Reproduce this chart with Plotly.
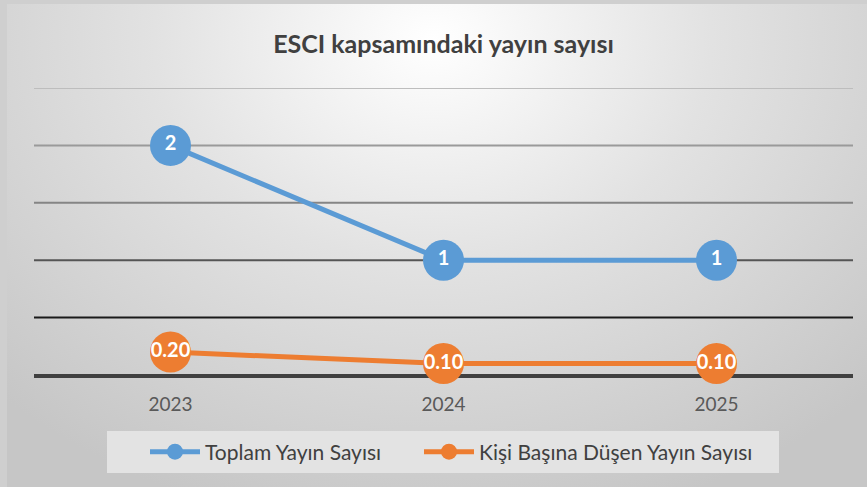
import plotly.graph_objects as go
import urllib.parse

years = ["2023", "2024", "2025"]
toplam = [2, 1, 1]
kisi_basina = [0.20, 0.10, 0.10]
toplam_labels = ["2", "1", "1"]
kisi_labels = ["0.20", "0.10", "0.10"]
grid_values = [0.5, 1.0, 1.5, 2.0, 2.5]
grid_colors = ["#1a1a1a", "#555555", "#858585", "#9a9a9a", "#bdbdbd"]

W, H = 867, 487
L, R, T, B = 34, 14, 88, 112
pw, ph = W - L - R, H - T - B

FONT = "Lato, 'Open Sans', sans-serif"

svg = (
    f'<svg xmlns="http://www.w3.org/2000/svg" width="{W}" height="{H}">'
    '<defs><radialGradient id="g" gradientUnits="userSpaceOnUse" cx="433" cy="40" r="620" '
    'gradientTransform="translate(433 40) scale(1 0.8) translate(-433 -40)">'
    '<stop offset="0" stop-color="#ffffff"/>'
    '<stop offset="0.45" stop-color="#e2e2e2"/>'
    '<stop offset="1" stop-color="#c6c6c6"/>'
    '</radialGradient></defs>'
    f'<rect x="0" y="0" width="{W}" height="{H}" fill="#cfcfcf"/>'
    f'<rect x="7" y="4" width="{W-7}" height="{H-4}" fill="url(#g)"/>'
    '</svg>'
)
bg_src = "data:image/svg+xml;charset=utf-8," + urllib.parse.quote(svg)

fig = go.Figure()
fig.add_trace(go.Scatter(
    x=years, y=toplam, name="Toplam Yayın Sayısı", legend="legend",
    mode="lines+markers+text", text=toplam_labels, textposition="middle center",
    textfont=dict(color="white", size=20, family=FONT, weight="bold"),
    line=dict(color="#5B9BD5", width=5),
    marker=dict(color="#5B9BD5", size=41),
    cliponaxis=False,
))
fig.add_trace(go.Scatter(
    x=years, y=kisi_basina, name="Kişi Başına Düşen Yayın Sayısı", legend="legend2",
    mode="lines+markers+text", text=kisi_labels, textposition="middle center",
    textfont=dict(color="white", size=20, family=FONT, weight="bold"),
    line=dict(color="#ED7D31", width=5),
    marker=dict(color="#ED7D31", size=41),
    cliponaxis=False,
))

shapes = []
for v, c in zip(grid_values, grid_colors):
    shapes.append(dict(type="line", xref="paper", yref="y", x0=0, x1=1, y0=v, y1=v,
                       line=dict(color=c, width=2), layer="below"))
shapes.append(dict(type="line", xref="paper", yref="paper", x0=0, x1=1, y0=-1 / ph, y1=-1 / ph,
                   line=dict(color="#404040", width=4), layer="below"))
# legend box
shapes.append(dict(type="rect", xref="paper", yref="paper",
                   x0=(107 - L) / pw, x1=(779 - L) / pw,
                   y0=(H - B - 473) / ph, y1=(H - B - 431) / ph,
                   fillcolor="#e3e3e3", line=dict(width=0), layer="below"))

leg_common = dict(orientation="h", xanchor="left", y=(H - B - 452) / ph,
                  yanchor="middle", bgcolor="rgba(0,0,0,0)",
                  font=dict(size=21, color="#404040", family=FONT), itemwidth=50)

fig.update_layout(
    width=W, height=H,
    margin=dict(l=L, r=R, t=T, b=B),
    paper_bgcolor="#cccccc",
    plot_bgcolor="rgba(0,0,0,0)",
    images=[dict(source=bg_src, xref="paper", yref="paper",
                 x=-L / pw, y=1 + T / ph, sizex=W / pw, sizey=H / ph,
                 xanchor="left", yanchor="top", sizing="stretch", layer="below")],
    shapes=shapes,
    title=dict(text="<b>ESCI kapsamındaki yayın sayısı</b>", xref="paper", x=0.5, xanchor="center",
               y=1 - 44 / H, yanchor="middle",
               font=dict(size=25, color="#404040", family=FONT)),
    xaxis=dict(type="category", range=[-0.5, 2.5], showgrid=False, zeroline=False,
               showline=False, ticks="", tickfont=dict(size=19, color="#595959", family=FONT),
               ticklabelstandoff=16),
    yaxis=dict(range=[0, 2.5], showgrid=False, zeroline=False, showticklabels=False,
               showline=False),
    showlegend=True,
    legend=dict(x=(145 - L) / pw, **leg_common),
    legend2=dict(x=(419 - L) / pw, **leg_common),
)

fig.write_html("out.html", config={"displayModeBar": False},
               post_script="document.body.style.margin='0';document.body.style.overflow='hidden';")
